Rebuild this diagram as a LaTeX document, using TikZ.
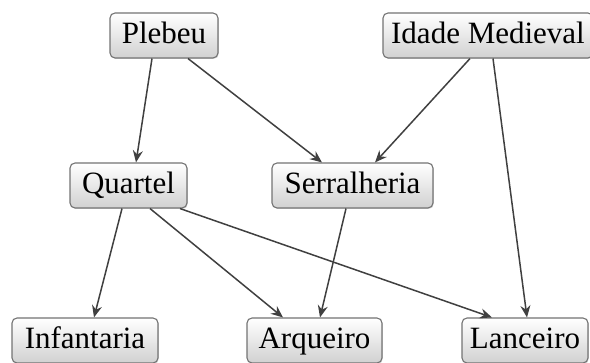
\documentclass[tikz,border=0pt]{standalone}
\usepackage{fontspec}
\setmainfont{Liberation Serif}
\usetikzlibrary{arrows.meta,shadows}
\begin{document}
\begin{tikzpicture}[x=1pt,y=-1pt,
  box/.style={draw=black!55, line width=1.1pt, rounded corners=5pt,
    top color=white, bottom color=black!18, minimum height=45pt,
    inner sep=0pt, text height=22pt, text depth=6pt,
    font=\fontsize{31}{31}\selectfont,
    drop shadow={shadow xshift=0.8pt, shadow yshift=-1pt, opacity=0.25}},
  link/.style={draw=black!75, line width=1.5pt,
    -{Stealth[length=12pt,width=10pt,inset=4pt]}}]
\useasboundingbox (0,0) rectangle (590,363);
% top row
\node[box, minimum width=108pt] (pl) at (164,35.5) {Plebeu};
\node[box, minimum width=210pt] (im) at (488,35.5) {Idade Medieval};
% middle row
\node[box, minimum width=117pt] (qu) at (128.5,185.5) {Quartel};
\node[box, minimum width=161pt] (se) at (352.5,185.5) {Serralheria};
% bottom row
\node[box, minimum width=146pt] (in) at (85,340.5) {Infantaria};
\node[box, minimum width=135pt] (ar) at (314.5,340.5) {Arqueiro};
\node[box, minimum width=126pt] (la) at (525,340.5) {Lanceiro};
% connectors
\draw[link] (pl.south -| 152,0) -- (qu.north -| 136,0);
\draw[link] (pl.south -| 188,0) -- (se.north -| 322,0);
\draw[link] (im.south -| 470,0) -- (se.north -| 375,0);
\draw[link] (im.south -| 493,0) -- (la.north -| 527,0);
\draw[link] (qu.south -| 122,0) -- (in.north -| 94,0);
\draw[link] (qu.south -| 150,0) -- (ar.north -| 283,0);
\draw[link] (qu.south -| 180,0) -- (la.north -| 492,0);
\draw[link] (se.south -| 346,0) -- (ar.north -| 320,0);
\end{tikzpicture}
\end{document}
